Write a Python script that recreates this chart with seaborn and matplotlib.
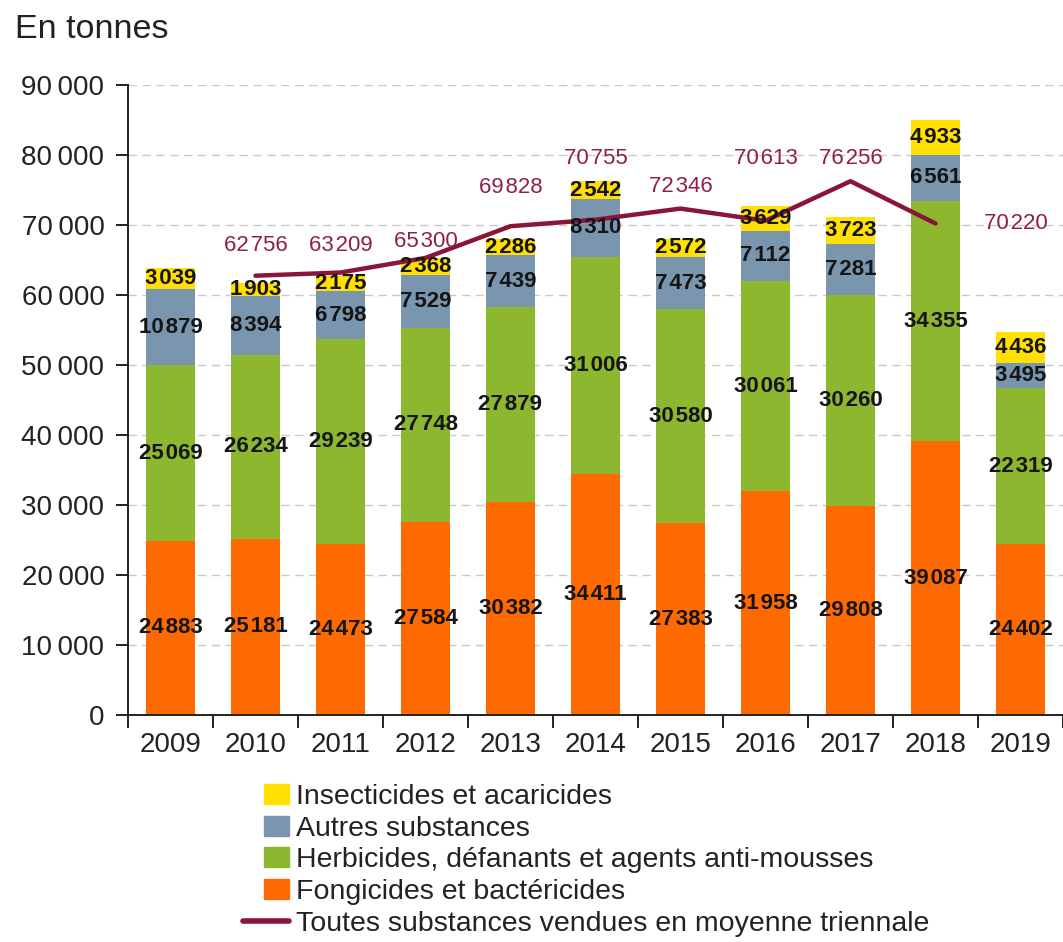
import numpy as np
import matplotlib
matplotlib.use("Agg")
import matplotlib.pyplot as plt
import seaborn as sns
from matplotlib.patches import Patch, Rectangle
from matplotlib.lines import Line2D
from matplotlib.legend_handler import HandlerPatch
from matplotlib.ticker import FuncFormatter

# --- data (tonnes) ---
years = ["2009", "2010", "2011", "2012", "2013", "2014", "2015", "2016", "2017", "2018", "2019"]
fongicides = [24883, 25181, 24473, 27584, 30382, 34411, 27383, 31958, 29808, 39087, 24402]
herbicides = [25069, 26234, 29239, 27748, 27879, 31006, 30580, 30061, 30260, 34355, 22319]
autres = [10879, 8394, 6798, 7529, 7439, 8310, 7473, 7112, 7281, 6561, 3495]
insecticides = [3039, 1903, 2175, 2368, 2286, 2542, 2572, 3629, 3723, 4933, 4436]
moyenne_years = ["2010", "2011", "2012", "2013", "2014", "2015", "2016", "2017", "2018"]
moyenne = [62756, 63209, 65300, 69828, 70755, 72346, 70613, 76256, 70220]

series_names = [
    "Fongicides et bactéricides",
    "Herbicides, défanants et agents anti-mousses",
    "Autres substances",
    "Insecticides et acaricides",
]
line_name = "Toutes substances vendues en moyenne triennale"

# --- styling ---
colors = ["#FF6A00", "#8DB72F", "#7A95AE", "#FFE000"]
line_color = "#8B1538"
line_text_color = "#8E1F4C"
# label placement around the moving-average points (dx in categories, dy in tonnes)
line_label_shift = [(0, 4250), (0, 3800), (0, 2300), (0, 5600), (0, 8800),
                    (0, 3100), (0, 8950), (0, 3300), (0.95, 0)]

sns.set_theme(style="white")
plt.rcParams["font.family"] = ["Liberation Sans", "DejaVu Sans"]

fig = plt.figure(figsize=(10.63, 9.42), dpi=100)
ax = fig.add_axes([128 / 1063, 1 - 715 / 942, 1 - 128 / 1063, (715 - 85) / 942])

layers = [fongicides, herbicides, autres, insecticides]
cum = np.cumsum(np.array(layers), axis=0)

# stacked bars: draw cumulative totals from the top layer down
for k in range(len(layers) - 1, -1, -1):
    sns.barplot(x=years, y=cum[k], order=years, color=colors[k], saturation=1,
                width=0.58, linewidth=0, errorbar=None, ax=ax, zorder=2)

# values inside each segment
axis_fmt = lambda v: f"{v:,}".replace(",", "\u2009")
label_fmt = lambda v: f"{v:,}".replace(",", "\u200a")
for k, vals in enumerate(layers):
    base = cum[k] - np.array(vals)
    for i, v in enumerate(vals):
        ax.text(i, base[i] + v / 2, label_fmt(v), ha="center", va="center",
                fontsize=16, fontweight="bold", color="#151515", zorder=5)

# three-year moving average line
xpos = [years.index(y) for y in moyenne_years]
sns.lineplot(x=xpos, y=moyenne, color=line_color, linewidth=3.2, ax=ax, zorder=4)
for x, v, (dx, dy) in zip(xpos, moyenne, line_label_shift):
    ax.text(x + dx, v + dy, label_fmt(v), ha="center", va="center", fontsize=16,
            color=line_text_color, zorder=6)

# axes
ax.set_xlim(-0.5, 10.41)
ax.set_ylim(0, 90000)
ax.set_xlabel("")
ax.set_ylabel("")
ax.set_yticks(np.arange(0, 90001, 10000))
ax.yaxis.set_major_formatter(FuncFormatter(lambda v, p: axis_fmt(int(v))))
ax.set_xticks(np.arange(-0.5, 11, 1))
ax.set_xticklabels([])
ax.set_xticks(np.arange(len(years)), minor=True)
ax.set_xticklabels(years, minor=True)
ax.tick_params(axis="x", which="major", direction="out", length=9, width=1.4, color="#222222")
ax.tick_params(axis="x", which="minor", length=0, pad=12, labelsize=20, labelcolor="#222222")
ax.tick_params(axis="y", direction="out", length=9, width=1.4, color="#222222",
               pad=8, labelsize=20, labelcolor="#222222")
ax.tick_params(left=True, bottom=True, which="major")

for s in ["top", "right"]:
    ax.spines[s].set_visible(False)
for s in ["left", "bottom"]:
    ax.spines[s].set_color("#222222")
    ax.spines[s].set_linewidth(1.4)

ax.yaxis.grid(True, linestyle=(0, (6, 4)), color="#c9c9c9", linewidth=1)
ax.xaxis.grid(False)
ax.set_axisbelow(True)

fig.text(15 / 1063, 1 - 30 / 942, "En tonnes", ha="left", va="center",
         fontsize=24.5, color="#222222")


# legend: swatches aligned to the right end of the line handle
def right_swatch(legend, orig_handle, xdescent, ydescent, width, height, fontsize):
    w = height * 1.25
    return Rectangle((-xdescent + width - w, -ydescent), w, height)


handles = [Patch(color=colors[k]) for k in (3, 2, 1, 0)]
labels = [series_names[k] for k in (3, 2, 1, 0)]
handles.append(Line2D([], [], color=line_color, linewidth=4, solid_capstyle="round"))
labels.append(line_name)
fig.legend(handles, labels, loc="upper left", bbox_to_anchor=(243 / 1063, 1 - 784 / 942),
           frameon=False, fontsize=20.5, handlelength=1.6, handleheight=0.7,
           handletextpad=0.27, labelspacing=0.2, borderaxespad=0, borderpad=0,
           labelcolor="#222222",
           handler_map={Patch: HandlerPatch(patch_func=right_swatch)})

fig.savefig("out.png", dpi=100)
